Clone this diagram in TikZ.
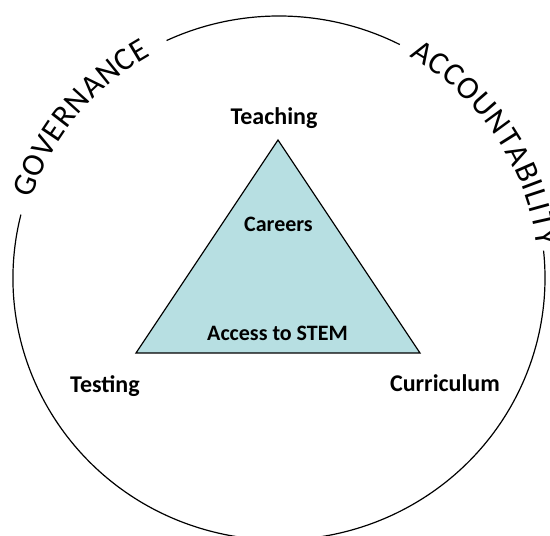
\documentclass[tikz,border=0pt]{standalone}
\usepackage{fontspec}
\setmainfont{Carlito}
\usepackage{xcolor}
\usepackage{tikz}
\usetikzlibrary{decorations.text,positioning}

\definecolor{trifill}{RGB}{183,223,226}
\newcommand\arcfont{\fontsize{16}{18}\selectfont}
\tikzset{
  corner/.style={font=\fontsize{12}{14}\selectfont\bfseries, inner sep=0pt, anchor=base},
  inside/.style={font=\fontsize{11}{13}\selectfont\bfseries, inner sep=0pt, anchor=base},
  ring/.style={line width=0.6pt}
}

\begin{document}
\begin{tikzpicture}[x=0.5pt, y=0.5pt]
\useasboundingbox (0,0) rectangle (550,535);
\coordinate (c) at (279,257);
% outer ring, broken where the words run along it
\draw[ring] (c) ++(115:266 and 262) arc[start angle=115, end angle=63, x radius=266, y radius=262];
\draw[ring] (c) ++(166:266 and 262) arc[start angle=166, end angle=366, x radius=266, y radius=262];
\path[decorate, decoration={text along path, text align={fit to path}, text={|\arcfont|GOVERNANCE}}]
  (c) ++(162:260 and 256) arc[start angle=162, end angle=119.5, x radius=260, y radius=256];
\path[decorate, decoration={text along path, text align={fit to path}, text={|\arcfont|ACCOUNTABILITY}}]
  (c) ++(60:260 and 256) arc[start angle=60, end angle=7, x radius=260, y radius=256];
% triangle
\coordinate (apex) at (278,395);
\coordinate (bl) at (136,182);
\coordinate (br) at (420,182);
\filldraw[fill=trifill, draw=black, line width=0.6pt] (apex) -- (br) -- (bl) -- cycle;
\node[corner] (teaching) at (274,410) {Teaching};
\node[inside] (careers) at (278.5,303) {Careers};
\node[inside] (access) at (277.5,194) {Access to STEM};
\node[corner] (testing) at (105,142) {Testing};
\node[corner] (curriculum) at (445,144) {Curriculum};
\end{tikzpicture}
\end{document}
